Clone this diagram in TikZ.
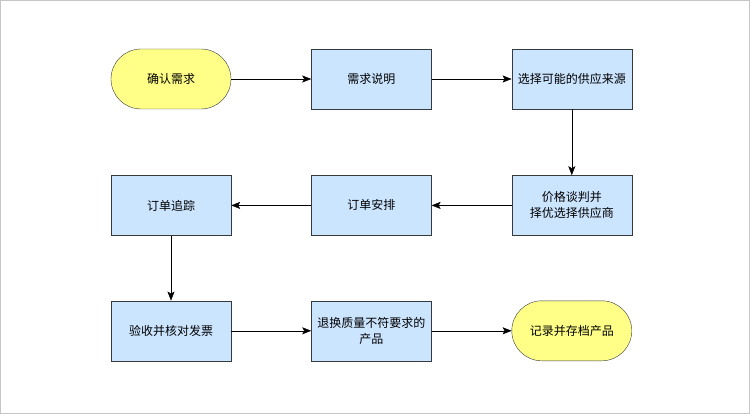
\documentclass[tikz,border=0pt]{standalone}
\usepackage{fontspec}
\setmainfont{Noto Sans CJK SC}
\usepackage{tikz}
\usetikzlibrary{positioning,arrows.meta}

\definecolor{stepblue}{HTML}{CCE5FF}
\definecolor{termyellow}{HTML}{FFFF88}
\definecolor{edgegray}{HTML}{36393D}

\begin{document}
\begin{tikzpicture}[x=1pt,y=-1pt,
    font=\fontsize{12pt}{16pt}\selectfont,
    stepbox/.style={rectangle,draw=edgegray,fill=stepblue,minimum width=120pt,minimum height=60pt,align=center,inner sep=1pt},
    term/.style={stepbox,fill=termyellow,rounded corners=30pt},
    >={Stealth[length=9pt,width=7pt,inset=2pt]}]

    \draw[gray!45,line width=1pt] (0.5,0.5) rectangle (749.5,413.5);
    \useasboundingbox (0,0) rectangle (750,414);

    \node[term] (confirm) at (171,79) {确认需求};
    \node[stepbox, right=80pt of confirm] (spec) {需求说明};
    \node[stepbox, right=80pt of spec] (source) {选择可能的供应来源};
    \node[stepbox, below=66pt of source] (price) {价格谈判并\\择优选择供应商};
    \node[stepbox, left=80pt of price] (order) {订单安排};
    \node[stepbox, left=80pt of order] (track) {订单追踪};
    \node[stepbox, below=65pt of track] (check) {验收并核对发票};
    \node[stepbox, right=80pt of check] (return) {退换质量不符要求的\\产品};
    \node[term, right=80pt of return] (record) {记录并存档产品};

    \path [->,draw]
    (confirm) edge (spec)
    (spec) edge (source)
    (source) edge (price)
    (price) edge (order)
    (order) edge (track)
    (track) edge (check)
    (check) edge (return)
    (return) edge (record);
\end{tikzpicture}
\end{document}
